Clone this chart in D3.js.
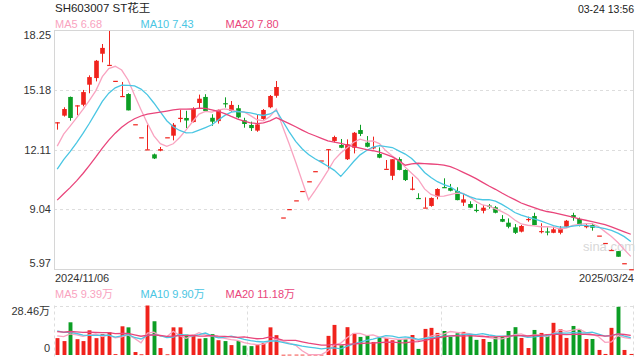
<!DOCTYPE html>
<html>
<head>
<meta charset="utf-8" />
<script src="https://d3js.org/d3.v7.min.js"></script>
<style>
  body { margin: 0; background: #fff; }
  svg { display: block; font-family: "Liberation Sans", Arial, "Noto Sans CJK SC", sans-serif; }
  .grid { stroke: #ddd; stroke-dasharray: 3,3; }
  .frame { fill: none; stroke: #d6d6d6; }
  .lbl { fill: #333; font-size: 11px; }
</style>
</head>
<body>
<svg id="chart" width="640" height="360"></svg>
<script>
// daily candles, 2024/11/06 .. 2025/03/24
var opens  = [13.51,13.85,14.81,14.38,14.41,15.44,15.78,17.03,16.46,15.64,14.86,14.96,13.41,12.74,12.10,11.86,12.05,12.74,12.82,13.72,
              13.73,13.52,14.50,14.81,13.74,13.57,14.49,14.09,14.23,13.61,13.37,13.08,13.68,14.28,14.87,8.62,9.05,9.50,9.98,10.48,
              11.00,11.55,12.13,12.55,12.34,11.61,12.20,13.11,12.46,12.21,11.88,11.12,10.76,11.62,11.06,10.05,9.62,9.12,9.21,9.68,
              10.18,10.13,9.98,9.38,9.31,9.01,8.96,9.23,9.14,8.54,8.35,8.11,7.89,8.53,8.69,7.91,7.90,7.83,7.83,8.14,
              8.74,8.54,8.17,8.23,7.69,7.31,6.93,6.89,6.27,5.96];
var highs  = [13.51,14.28,14.83,14.38,15.17,15.92,16.71,17.53,18.20,15.64,15.58,15.00,13.41,12.74,13.38,11.90,12.24,12.74,13.47,14.15,
              14.10,14.28,14.93,14.95,13.92,14.19,14.79,14.60,14.40,13.74,13.54,13.88,14.19,14.91,15.63,8.62,9.05,9.50,9.98,10.48,
              11.00,11.55,12.13,12.82,12.65,12.63,13.01,13.38,12.80,12.77,12.22,11.57,11.61,11.71,11.09,10.71,9.86,9.65,9.65,10.12,
              10.63,10.34,10.17,9.86,9.45,9.31,9.26,9.31,9.21,8.74,8.57,8.28,8.23,8.66,8.86,8.32,8.11,8.14,8.18,8.49,
              8.86,8.61,8.32,8.32,7.69,7.31,6.98,6.89,6.27,5.96];
var lows   = [13.13,13.80,13.59,13.87,14.33,15.00,15.61,16.59,16.46,15.64,14.86,14.12,13.41,12.74,12.10,11.62,12.02,12.74,12.58,13.51,
              13.21,13.50,14.24,14.05,13.33,13.44,14.26,14.05,13.71,13.23,13.06,13.02,13.64,14.23,14.77,8.62,9.05,9.50,9.98,10.48,
              11.00,11.55,11.11,12.48,12.18,11.57,11.91,12.80,12.22,12.12,11.66,11.12,10.54,11.04,10.49,10.01,9.60,9.12,9.17,9.55,
              10.14,9.96,9.50,9.21,9.10,8.88,8.83,9.07,8.83,8.38,8.06,7.77,7.85,8.40,8.22,7.80,7.70,7.81,7.75,8.11,
              8.45,8.16,8.06,7.94,7.69,7.31,6.92,6.60,6.27,5.96];
var closes = [13.51,14.19,13.73,14.38,15.06,15.83,16.67,17.33,16.46,15.64,14.86,14.12,13.41,12.74,12.12,11.65,12.13,12.74,13.38,13.74,
              13.60,14.21,14.72,14.09,13.54,14.14,14.47,14.40,13.76,13.42,13.21,13.40,14.14,14.86,15.32,8.62,9.05,9.50,9.98,10.48,
              11.00,11.55,12.13,12.75,12.20,12.38,12.97,12.91,12.25,12.23,11.69,11.12,11.61,11.06,10.54,10.10,9.60,9.13,9.62,10.08,
              10.16,9.99,9.51,9.55,9.12,9.00,9.12,9.21,8.86,8.40,8.14,7.83,8.18,8.54,8.23,7.92,7.89,8.01,8.06,8.45,
              8.62,8.18,8.18,8.09,7.69,7.31,6.95,6.60,6.27,5.96];
// volume, 万手
var volumes = [9.7,8.0,18.8,9.1,8.0,14.2,9.7,12.0,13.1,0.5,16.5,15.9,1.7,0.4,28.46,19.4,4.0,0.4,15.9,15.9,
               11.7,11.4,9.4,9.7,12.0,8.5,8.0,5.7,8.0,5.4,5.1,5.7,6.8,15.9,11.4,0.15,0.2,0.2,0.2,0.2,
               0.2,0.2,11.0,17.3,5.6,16.0,12.5,10.4,11.2,7.5,10.0,9.8,8.5,8.8,9.0,11.5,3.5,15.0,15.6,12.7,
               13.8,10.4,12.5,13.3,11.3,8.7,9.2,7.5,10.4,10.6,13.8,16.0,9.8,4.0,14.4,12.7,11.9,18.5,14.8,9.8,
               16.7,14.6,9.2,9.2,2.9,0.6,15.6,27.7,2.9,0.6];
// sessions before the window (needed for the moving averages at the left edge)
var prevCloses  = [7.6,7.5,7.4,7.5,7.5,8.0,8.2,8.3,8.5,8.7,9.3,9.6,9.9,10.2,10.6,11.11,11.67,12.25,12.87];
var prevVolumes = [13,12,14,13,12,13,14,12,13,13.5,17,18,16,17,16,10,11,12,12];

var priceTicks = [18.25, 15.18, 12.11, 9.04, 5.97];
var dateLabels = ["2024/11/06", "2025/03/24"];
var maDays = [5, 10, 20];
var maColors = ["#f9a3c0", "#4ac6e3", "#e9457b"];
var maPriceText = ["MA5 6.68", "MA10 7.43", "MA20 7.80"];
var maVolText = ["MA5 9.39万", "MA10 9.90万", "MA20 11.18万"];

var red = "#f0221c", green = "#0c9e24";

var svg = d3.select("#chart");
var pLeft = 54, pRight = 634, pTop = 30, pBottom = 269;
var vTop = 305.5, vBottom = 355;

var x = d3.scaleBand().domain(d3.range(closes.length)).range([pLeft, pRight]);
var y = d3.scaleLinear().domain([5.97, 18.25]).range([pBottom, pTop]);
var yv = d3.scaleLinear().domain([0, 28.46]).range([vBottom, vTop]);
var bw = x.bandwidth() * 0.72;
var cx = function(i) { return x(i) + x.bandwidth() / 2; };

function movingAvg(all, prev, n) {
  var arr = prev.concat(all);
  return all.map(function(d, i) {
    var j = i + prev.length, s = 0;
    for (var k = j - n + 1; k <= j; k++) s += arr[k];
    return s / n;
  });
}

// title
svg.append("text").attr("x", 55).attr("y", 12).attr("fill", "#222")
  .style("font-size", "11.5px").text("SH603007 ST花王");
svg.append("text").attr("x", 634).attr("y", 13).attr("text-anchor", "end").attr("fill", "#222")
  .style("font-size", "10.5px").text("03-24 13:56");

// legends
[maPriceText, maVolText].forEach(function(arr, r) {
  svg.selectAll(".leg" + r).data(arr).enter().append("text")
    .attr("class", "leg" + r)
    .attr("x", function(d, i) { return [55, 140.5, 225.5][i]; })
    .attr("y", r === 0 ? 27.5 : 298)
    .attr("fill", function(d, i) { return maColors[i]; })
    .style("font-size", "11px")
    .text(function(d) { return d; });
});

// price grid + frame
svg.selectAll(".pgrid").data(priceTicks.slice(1, 4)).enter().append("line")
  .attr("class", "grid pgrid")
  .attr("x1", pLeft).attr("x2", pRight)
  .attr("y1", function(d) { return Math.round(y(d)) + 0.5; })
  .attr("y2", function(d) { return Math.round(y(d)) + 0.5; });
svg.append("rect").attr("class", "frame")
  .attr("x", pLeft + 0.5).attr("y", pTop + 0.5).attr("width", pRight - pLeft - 1).attr("height", pBottom - pTop);

// price axis labels
var yAxis = svg.append("g").attr("transform", "translate(51,0)")
  .call(d3.axisLeft(y).tickValues(priceTicks).tickSize(0).tickPadding(0).tickFormat(d3.format(".2f")));
yAxis.select(".domain").remove();
yAxis.attr("font-family", null).attr("font-size", null);
yAxis.selectAll("text").attr("fill", "#333").style("font-size", "11px")
  .attr("dy", function(d, i) { return i === 0 ? "0.8em" : (i === priceTicks.length - 1 ? "-0.25em" : "0.32em"); });

// date labels
svg.append("text").attr("class", "lbl").attr("x", 55).attr("y", 282).text(dateLabels[0]);
svg.append("text").attr("class", "lbl").attr("x", 634).attr("y", 282).attr("text-anchor", "end").text(dateLabels[1]);

// watermark
svg.append("text").attr("x", 583).attr("y", 251).attr("fill", "#d8d8d8")
  .style("font-size", "13px").text("sina.com");

// candles
var candles = svg.append("g").selectAll("g").data(closes).enter().append("g");
candles.append("line")
  .attr("x1", function(d, i) { return Math.round(cx(i)) + 0.5; })
  .attr("x2", function(d, i) { return Math.round(cx(i)) + 0.5; })
  .attr("y1", function(d, i) { return y(highs[i]); })
  .attr("y2", function(d, i) { return y(lows[i]); })
  .attr("stroke", function(d, i) { return d >= opens[i] ? red : green; });
candles.append("rect")
  .attr("x", function(d, i) { return Math.round(cx(i)) + 0.5 - bw / 2; })
  .attr("width", bw)
  .attr("y", function(d, i) { return y(Math.max(d, opens[i])); })
  .attr("height", function(d, i) { return Math.max(1.2, Math.abs(y(d) - y(opens[i]))); })
  .attr("fill", function(d, i) { return d >= opens[i] ? red : green; });

// MA lines on price
maDays.forEach(function(n, k) {
  var m = movingAvg(closes, prevCloses, n);
  svg.append("path").datum(m)
    .attr("fill", "none").attr("stroke", maColors[k]).attr("stroke-width", 1.3)
    .attr("d", d3.line().x(function(d, i) { return cx(i); }).y(function(d) { return y(d); }));
});

// volume panel
var vg = svg.append("g");
vg.append("line").attr("class", "grid").attr("x1", pLeft).attr("x2", pRight).attr("y1", Math.round(vTop) + 0.5).attr("y2", Math.round(vTop) + 0.5);
[pLeft, pLeft + (pRight - pLeft) / 3, pLeft + 2 * (pRight - pLeft) / 3, pRight - 1].forEach(function(xx) {
  vg.append("line").attr("class", "grid").attr("x1", Math.round(xx) + 0.5).attr("x2", Math.round(xx) + 0.5)
    .attr("y1", vTop).attr("y2", vBottom + 3);
});
vg.selectAll(".vbar").data(volumes).enter().append("rect")
  .attr("class", "vbar")
  .attr("x", function(d, i) { return Math.round(cx(i)) + 0.5 - bw * 0.42; })
  .attr("width", bw * 0.84)
  .attr("y", function(d) { return yv(d); })
  .attr("height", function(d) { return Math.max(0.8, vBottom - yv(d)); })
  .attr("fill", function(d, i) { return closes[i] >= opens[i] ? red : green; });
maDays.forEach(function(n, k) {
  var m = movingAvg(volumes, prevVolumes, n);
  vg.append("path").datum(m)
    .attr("fill", "none").attr("stroke", maColors[k]).attr("stroke-width", 1.3)
    .attr("d", d3.line().x(function(d, i) { return cx(i); }).y(function(d) { return yv(d); }));
});
svg.append("text").attr("class", "lbl").attr("x", 50).attr("y", 315).attr("text-anchor", "end").text("28.46万");
svg.append("text").attr("class", "lbl").attr("x", 50).attr("y", 352).attr("text-anchor", "end").text("0");
</script>
</body>
</html>
